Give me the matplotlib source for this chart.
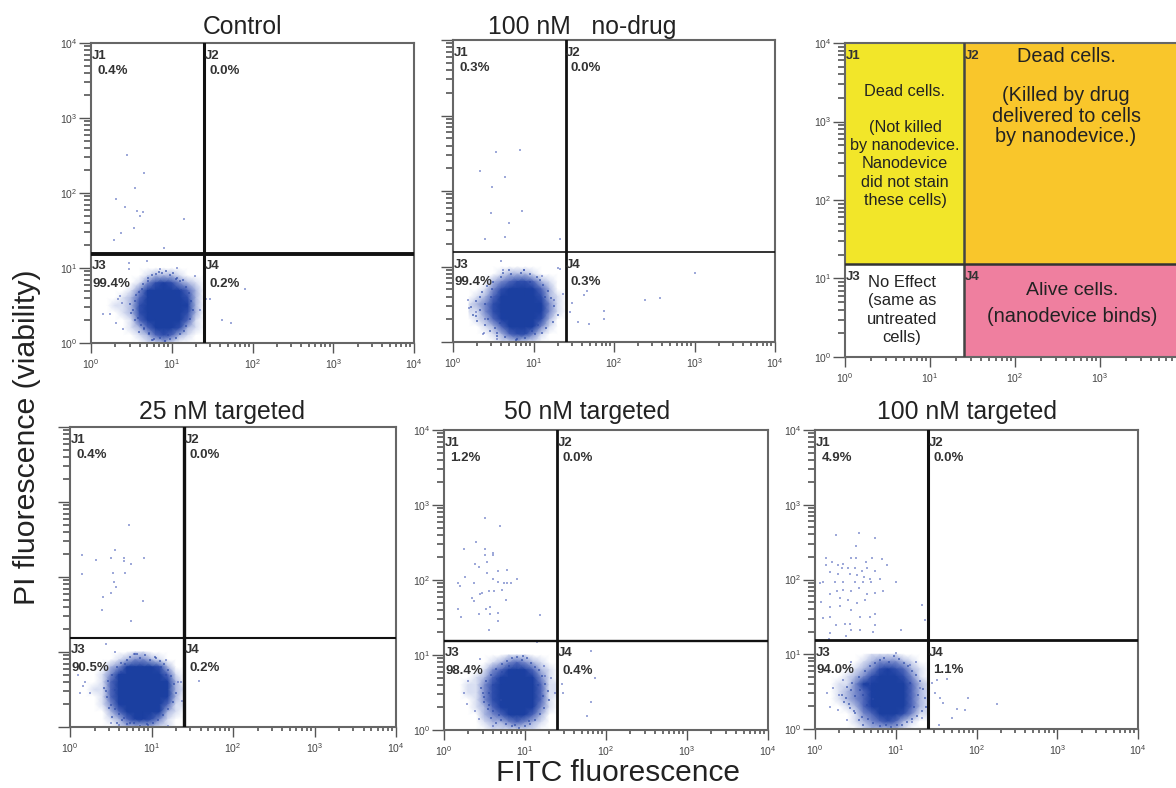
import numpy as np
import matplotlib
matplotlib.use('Agg')
import matplotlib.pyplot as plt
from matplotlib.colors import LinearSegmentedColormap
from matplotlib.ticker import LogLocator, NullFormatter

plt.rcParams['font.family'] = ['Liberation Sans', 'DejaVu Sans']
plt.rcParams['mathtext.default'] = 'regular'

# gates, fluorescence units
gate_x = 25
gate_y = 15.5

tick_vals = [1, 10, 100, 1000, 10000]
tick_labels = ['10$^{0}$', '10$^{1}$', '10$^{2}$', '10$^{3}$', '10$^{4}$']

# density of the main cloud, read per 0.1 decade (0 = white, 9 = solid blue)
grid_x = [.2, .3, .4, .5, .6, .7, .8, .9, 1.0, 1.1, 1.2, 1.3, 1.4]
grid_y = [1.0, .9, .8, .7, .6, .5, .4, .3, .2, .1, 0]

control_grid = [
    [0, 0, 0, 0, 0, 0, 0, 0, 0, 0, 0, 0, 0],
    [0, 0, 0, 0, 0, 1, 2, 2, 2, 1, 0, 0, 0],
    [0, 0, 0, 0, 1, 3, 5, 6, 5, 3, 2, 1, 0],
    [0, 0, 0, 1, 3, 6, 8, 9, 8, 6, 4, 2, 0],
    [0, 0, 1, 2, 4, 7, 9, 9, 9, 8, 5, 2, 0],
    [0, 1, 1, 2, 5, 8, 9, 9, 9, 8, 6, 2, 0],
    [0, 0, 1, 2, 5, 8, 9, 9, 9, 8, 5, 2, 0],
    [0, 0, 0, 1, 4, 6, 9, 9, 9, 7, 4, 1, 0],
    [0, 0, 0, 1, 2, 4, 7, 9, 8, 5, 2, 1, 0],
    [0, 0, 0, 0, 1, 2, 4, 5, 4, 2, 1, 0, 0],
    [0, 0, 0, 0, 0, 1, 1, 2, 1, 0, 0, 0, 0]]
nodrug_grid = [
    [0, 0, 0, 0, 0, 0, 0, 0, 0, 0, 0, 0, 0],
    [0, 0, 0, 0, 1, 2, 2, 2, 1, 0, 0, 0, 0],
    [0, 0, 0, 2, 3, 4, 5, 5, 4, 2, 1, 0, 0],
    [0, 0, 1, 3, 5, 7, 8, 8, 6, 4, 2, 0, 0],
    [0, 1, 2, 4, 7, 9, 9, 9, 8, 5, 2, 1, 0],
    [1, 2, 3, 5, 8, 9, 9, 9, 8, 6, 3, 1, 0],
    [1, 1, 3, 5, 8, 9, 9, 9, 8, 6, 3, 1, 0],
    [0, 1, 2, 4, 6, 9, 9, 9, 8, 5, 2, 0, 0],
    [0, 0, 1, 2, 4, 7, 8, 8, 6, 3, 1, 0, 0],
    [0, 0, 0, 1, 2, 4, 5, 5, 3, 1, 0, 0, 0],
    [0, 0, 0, 0, 1, 1, 2, 1, 1, 0, 0, 0, 0]]
t25_grid = [
    [0, 0, 0, 0, 0, 0, 1, 1, 0, 0, 0, 0, 0],
    [0, 0, 0, 0, 1, 2, 3, 3, 2, 1, 0, 0, 0],
    [0, 0, 0, 2, 3, 6, 8, 8, 7, 5, 2, 0, 0],
    [0, 0, 1, 3, 6, 8, 9, 9, 9, 7, 4, 1, 0],
    [0, 0, 1, 4, 7, 9, 9, 9, 9, 8, 6, 2, 0],
    [0, 1, 1, 4, 8, 9, 9, 9, 9, 9, 7, 2, 1],
    [0, 0, 1, 4, 7, 9, 9, 9, 9, 9, 6, 2, 0],
    [0, 0, 1, 3, 6, 9, 9, 9, 9, 8, 4, 1, 1],
    [0, 0, 0, 2, 4, 7, 9, 9, 9, 6, 2, 1, 0],
    [0, 0, 0, 1, 2, 4, 6, 6, 5, 3, 1, 0, 0],
    [0, 0, 0, 0, 1, 2, 2, 2, 2, 1, 1, 0, 0]]
t50_grid = [
    [0, 0, 0, 0, 0, 0, 1, 1, 1, 0, 0, 0, 0],
    [0, 0, 0, 0, 1, 2, 3, 4, 3, 2, 1, 0, 0],
    [0, 0, 0, 1, 3, 4, 6, 7, 6, 4, 2, 1, 0],
    [0, 0, 1, 2, 4, 6, 8, 9, 9, 6, 3, 1, 0],
    [0, 1, 1, 3, 5, 7, 9, 9, 9, 8, 4, 1, 1],
    [0, 1, 1, 3, 5, 7, 9, 9, 9, 8, 4, 1, 1],
    [0, 0, 1, 3, 5, 7, 9, 9, 9, 7, 4, 1, 0],
    [0, 0, 1, 2, 4, 6, 8, 9, 9, 6, 3, 1, 0],
    [0, 0, 0, 2, 3, 4, 6, 7, 6, 4, 2, 0, 0],
    [0, 0, 0, 1, 2, 2, 3, 4, 3, 2, 1, 0, 0],
    [0, 0, 0, 0, 1, 1, 1, 1, 1, 1, 0, 0, 0]]
t100_grid = [
    [0, 0, 0, 0, 0, 1, 1, 1, 1, 0, 0, 0, 0],
    [0, 0, 0, 0, 1, 2, 3, 3, 3, 2, 1, 0, 0],
    [0, 0, 0, 1, 2, 3, 5, 6, 5, 4, 2, 1, 0],
    [0, 0, 1, 2, 3, 5, 7, 8, 7, 5, 3, 1, 0],
    [0, 1, 1, 3, 6, 6, 8, 9, 9, 7, 4, 2, 1],
    [0, 1, 2, 3, 4, 6, 8, 9, 9, 8, 4, 2, 1],
    [0, 1, 2, 3, 4, 6, 9, 9, 9, 8, 4, 2, 1],
    [0, 0, 1, 2, 4, 6, 8, 9, 9, 7, 4, 2, 1],
    [0, 0, 0, 1, 3, 4, 7, 8, 7, 5, 3, 1, 1],
    [0, 0, 0, 1, 2, 3, 4, 5, 4, 2, 1, 0, 0],
    [0, 0, 0, 0, 1, 2, 2, 2, 2, 1, 0, 0, 0]]

# single events, read as log10 values
control_x = [.44, .66, .55, .31, .42, .64, .57, .61, 1.15, .53, .37, .28, .90,
             .15, .36, .34, .47, .47, .40, .31, 1.62, 1.73, 1.91, 1.43, 1.47, .69, .86, 1.06, 1.29, 1.35, .77, .92, .24, .39]
control_y = [2.50, 2.27, 2.06, 1.92, 1.81, 1.74, 1.76, 1.69, 1.65, 1.53, 1.46, 1.37, 1.27,
             .39, .62, .58, 1.06, .98, .18, .27, .31, .26, .72, .59, .59, 1.09, .98, 1.00, .89, .44, .04, .02, .38, .53]

nodrug_x = [.83, .53, .33, .64, .49, .47, .86, .69, .40, .64, 1.33,
            3.0, 2.57, 2.38, 1.88, 1.87, 1.63, 1.67, 1.48, 1.45, 1.55, 1.69,
            .60, .62, .19, .28, .38, .20, .37, 1.30, 1.33, 1.37, .55, .88, 1.10, 1.25, .40]
nodrug_y = [2.54, 2.51, 2.27, 2.18, 2.05, 1.71, 1.73, 1.57, 1.36, 1.39, 1.36,
            .92, .58, .55, .41, .30, .62, .68, .51, .40, .27, .24,
            1.07, .95, .55, .40, .12, .45, .10, .98, .97, .63, .04, .96, .88, .55, .30]

t25_x = [.73, .55, .15, .32, .50, .66, .66, .91, .75, .53, .68, .15, .54, .57, .50, .41, .90, .39, .75,
         1.58, .44, .10, .16, .18, .24, .50, .60, 1.20, 1.32, 1.36, 1.37, .55, 1.18, .78, .12]
t25_y = [2.70, 2.36, 2.29, 2.23, 2.25, 2.25, 2.21, 2.26, 2.17, 2.06, 2.06, 2.04, 1.94, 1.87, 1.79, 1.73, 1.68, 1.56, 1.41,
         .61, 1.11, .70, .55, .60, .45, .05, .03, .02, .60, .60, .35, 1.00, .90, .98, .45]

t50_x = [.51, .69, .39, .25, .51, .60, .60, .51, .53, .38, .43, .53, .67, .78, .26, .60, .90, .17, .20, .37, .67,
         .74, .78, .83, .44, .47, .56, .62, .72, .34, .37, .76, .17, .52, .57, .43, .57, .67, .21, .67, 1.19, .56,
         1.81, 1.87, 1.81, 1.77, 1.47, 1.46, .25, .28, .30, .43, .38, 1.15, 1.25, 1.32, 1.37, .60, .45, 1.24]
t50_y = [2.83, 2.72, 2.51, 2.42, 2.41, 2.36, 2.33, 2.33, 2.24, 2.21, 2.17, 2.09, 2.12, 2.13, 2.04, 2.02, 2.02, 1.96, 1.92, 1.96, 1.98,
         1.96, 1.96, 1.96, 1.81, 1.83, 1.85, 1.86, 1.87, 1.76, 1.72, 1.74, 1.62, 1.62, 1.64, 1.55, 1.55, 1.56, 1.51, 1.45, 1.53, 1.33,
         1.06, .69, .38, .19, .49, .62, .50, .35, .66, .15, .25, 1.17, .72, .70, .50, .05, .95, .85]

t100_x = [.26, .55, .74, .51, .14, .21, .28, .35, .45, .51, .63, .70, .83, .89, .14, .33, .41, .50, .58, .65, .74,
          .19, .29, .43, .52, .61, .68, .81, .10, .25, .35, .50, .60, .69, 1.00, .06, .18, .27, .35, .45, .55, .65,
          .74, .84, .08, .31, .41, .52, .62, .19, .31, .45, .74, .68, .10, .19, .37, .56, .26, .43, .74, .19, .45,
          .56, 1.07, .72, 1.32, 1.36, .39, .17,
          2.25, 1.90, 1.76, 1.86, 1.70, 1.54, 1.59, 1.51, 1.63, 1.45, 1.49, 1.55,
          .18, .22, .30, .35, .28, .40, .15, 1.33, 1.25, 1.18, .45, 1.30, 1.00, 1.20]
t100_y = [2.60, 2.62, 2.55, 2.45, 2.29, 2.24, 2.20, 2.21, 2.29, 2.29, 2.24, 2.29, 2.28, 2.19, 2.19, 2.15, 2.16, 2.16, 2.12, 2.15, 2.12,
          2.10, 2.08, 2.07, 2.06, 2.04, 2.01, 2.01, 1.96, 1.96, 1.97, 1.97, 1.97, 1.96, 1.96, 1.95, 1.80, 1.84, 1.86, 1.85, 1.88, 1.80,
          1.82, 1.84, 1.70, 1.75, 1.72, 1.68, 1.73, 1.63, 1.64, 1.59, 1.54, 1.50, 1.48, 1.50, 1.41, 1.50, 1.39, 1.41, 1.39, 1.29, 1.32,
          1.32, 1.32, 1.30, 1.66, 1.46, 1.24, 1.21,
          .34, .42, .27, .26, .15, .06, .35, .66, .67, .61, .48, .41,
          .30, .55, .45, .65, .25, .12, .48, .15, .90, .85, .90, .55, 1.02, .10]

# darker speckle round the rim of each cloud, log10 values
control_rim_x = [.52, .55, .58, .60, .62, .64, .66, .70, .72, .75, .80, .84, .88, .93, .98, 1.02, 1.06, 1.10, 1.14, 1.18, 1.21, 1.24, 1.26,
                 1.22, 1.18, 1.15, 1.10, 1.05, .98, .92, .85, .78, .72, .66, .60, .55, .50, .48, .56, .63, .70, 1.12, 1.19, .75, .95, 1.05]
control_rim_y = [.44, .56, .33, .68, .24, .79, .18, .86, .13, .90, .92, .95, .93, .96, .90, .93, .87, .82, .84, .74, .66, .56, .44,
                 .32, .22, .16, .12, .06, .05, .03, .06, .05, .12, .20, .15, .30, .40, .52, .64, .72, .82, .70, .42, .04, .10, .85]
nodrug_rim_x = [.22, .25, .28, .30, .33, .36, .40, .42, .46, .50, .55, .60, .65, .72, .78, .84, .90, .96, 1.02, 1.08, 1.12, 1.18, 1.22,
                1.26, 1.30, 1.24, 1.16, 1.10, 1.04, .96, .88, .80, .70, .62, .55, .47, .40, .34, .28, .44, .52, .58, .98, 1.06, 1.14, .48]
nodrug_rim_y = [.46, .36, .54, .28, .60, .66, .22, .74, .14, .80, .12, .86, .06, .90, .03, .92, .05, .90, .10, .82, .76, .68, .58,
                .48, .36, .26, .18, .12, .86, .80, .95, .04, .96, .92, .08, .60, .50, .42, .34, .30, .18, .25, .15, .22, .60, .70]
t25_rim_x = [.42, .45, .47, .50, .52, .55, .58, .60, .63, .66, .70, .74, .80, .86, .92, .98, 1.04, 1.10, 1.15, 1.20, 1.24, 1.27, 1.30,
             1.26, 1.20, 1.14, 1.08, 1.02, .94, .86, .78, .70, .64, .58, .52, .48, .44, .62, .68, .74, 1.12, 1.18, .55, .82, .96, 1.06]
t25_rim_y = [.52, .40, .62, .30, .70, .24, .80, .18, .86, .12, .90, .94, .98, .92, .96, .90, .94, .88, .84, .76, .68, .58, .46,
             .34, .24, .16, .10, .06, .04, .02, .06, .04, .10, .06, .14, .26, .48, .74, .84, .05, .80, .70, .50, .97, .03, .92]
t50_rim_x = [.46, .50, .52, .55, .58, .60, .64, .68, .72, .78, .84, .90, .96, 1.02, 1.08, 1.12, 1.17, 1.21, 1.25, 1.28, 1.30, 1.24, 1.18,
             1.12, 1.06, 1.00, .92, .84, .76, .70, .64, .58, .54, .50, .48, .66, .72, .80, .98, 1.16, 1.22, .60, .56, .70, .88, 1.05]
t50_rim_y = [.56, .44, .66, .34, .74, .26, .82, .20, .88, .92, .96, .98, .94, .96, .90, .84, .80, .72, .62, .52, .40, .30, .22,
             .14, .08, .05, .03, .05, .08, .14, .10, .16, .28, .38, .50, .68, .78, .86, .99, .60, .46, .60, .50, .40, .07, .12]
t100_rim_x = [.33, .36, .40, .43, .46, .50, .54, .58, .62, .68, .74, .80, .86, .92, .98, 1.04, 1.10, 1.15, 1.20, 1.25, 1.30, 1.34, 1.36,
              1.38, 1.32, 1.26, 1.20, 1.14, 1.08, 1.02, .94, .88, .80, .72, .66, .60, .54, .48, .42, .38, .50, .56, .64, .72, .68, 1.28,
              1.22, 1.18, 1.10, .44, .60]
t100_rim_y = [.46, .36, .56, .28, .62, .22, .70, .16, .78, .84, .88, .92, .95, .90, .98, .94, .88, .84, .78, .72, .64, .54, .42,
              .30, .24, .18, .14, .10, .06, .05, .03, .06, .04, .08, .14, .06, .12, .24, .34, .42, .44, .52, .32, .40, .60, .46,
              .30, .62, .66, .52, .46]

# quadrant percentages J1, J2, J3, J4
control_pct = ['0.4%', '0.0%', '99.4%', '0.2%']
nodrug_pct = ['0.3%', '0.0%', '99.4%', '0.3%']
t25_pct = ['0.4%', '0.0%', '90.5%', '0.2%']
t50_pct = ['1.2%', '0.0%', '98.4%', '0.4%']
t100_pct = ['4.9%', '0.0%', '94.0%', '1.1%']

W, H = 1176, 788
fig = plt.figure(figsize=(W / 100, H / 100), dpi=100, facecolor='white')
cloud_cmap = LinearSegmentedColormap.from_list('cloud', [(0, '#ffffff'), (.2, '#c9d2ec'), (.5, '#5f74c2'),
                                                         (.8, '#1c3fa3'), (1, '#1b3fa0')])
GREY = '#555555'


def make_axes(left, top, right, bottom, ylabels=True):
    ax = fig.add_axes([left / W, 1 - bottom / H, (right - left) / W, (bottom - top) / H])
    ax.set_xscale('log')
    ax.set_yscale('log')
    ax.set_xlim(1, 10000)
    ax.set_ylim(1, 10000)
    for s in ax.spines.values():
        s.set_color('#666666')
        s.set_linewidth(1.5)
    ax.set_xticks(tick_vals, tick_labels)
    ax.set_yticks(tick_vals, tick_labels if ylabels else [''] * 5)
    for axis in (ax.xaxis, ax.yaxis):
        axis.set_minor_locator(LogLocator(base=10, subs=np.arange(2, 10), numticks=12))
        axis.set_minor_formatter(NullFormatter())
    ax.tick_params(axis='y', which='major', length=9, width=1.0, color=GREY, labelsize=7.5, labelcolor='#444444', pad=1)
    ax.tick_params(axis='x', which='major', length=7, width=1.0, color=GREY, labelsize=7.5, labelcolor='#444444', pad=3)
    ax.tick_params(axis='y', which='minor', length=5, width=1.2, color=GREY)
    ax.tick_params(axis='x', which='minor', length=3, width=1.2, color=GREY)
    return ax


def quad_labels(ax, pct, size=9.5):
    xs = [1.03, 25.5, 1.03, 25.5]
    ys = [6800, 6800, 10.5, 10.5]
    names = ['J1', 'J2', 'J3', 'J4']
    for n, xx, yy in zip(names, xs, ys):
        ax.text(xx, yy, n, fontsize=size, fontweight='bold', color='#333333', ha='left', va='center', zorder=5)
    if pct is not None:
        ax.text(1.2, 4200, pct[0], fontsize=size, fontweight='bold', color='#333333', va='center')
        ax.text(29, 4200, pct[1], fontsize=size, fontweight='bold', color='#333333', va='center')
        ax.text(1.04, 6.2, pct[2], fontsize=size, fontweight='bold', color='#333333', va='center', zorder=5)
        ax.text(29, 6.2, pct[3], fontsize=size, fontweight='bold', color='#333333', va='center', zorder=5)


def flow_panel(box, title, title_x, title_y, grid, rim_x, rim_y, px, py, pct, lw_v=2.0, lw_h=2.0, ylabels=True):
    ax = make_axes(*box, ylabels=ylabels)
    X, Y = np.meshgrid(np.power(10.0, grid_x), np.power(10.0, grid_y))
    ax.pcolormesh(X, Y, np.array(grid), cmap=cloud_cmap, vmin=0, vmax=7, shading='gouraud', zorder=1)
    ax.scatter(np.power(10.0, rim_x), np.power(10.0, rim_y), s=3.5, marker='s', color='#2a49a8', alpha=0.6,
               linewidths=0, zorder=2)
    ax.scatter(np.power(10.0, px), np.power(10.0, py), s=3.5, marker='s', color='#3f55b5', alpha=0.5,
               linewidths=0, zorder=2)
    ax.axvline(gate_x, color='#111111', lw=lw_v, zorder=3)
    ax.axhline(gate_y, color='#111111', lw=lw_h, zorder=3)
    quad_labels(ax, pct)
    fig.text(title_x / W, 1 - (title_y + 1) / H, title, fontsize=17.8, color='#222222', ha='center', va='center')
    return ax


flow_panel((91, 43, 414, 343), 'Control', 243, 26, control_grid, control_rim_x, control_rim_y,
           control_x, control_y, control_pct, lw_v=2.2, lw_h=2.8)
flow_panel((453, 40, 775, 342), '100 nM   no-drug', 582, 26, nodrug_grid, nodrug_rim_x, nodrug_rim_y,
           nodrug_x, nodrug_y, nodrug_pct, lw_v=2.0, lw_h=1.2, ylabels=False)
flow_panel((70, 427, 396, 727), '25 nM targeted', 222, 411, t25_grid, t25_rim_x, t25_rim_y,
           t25_x, t25_y, t25_pct, lw_v=2.4, lw_h=1.5, ylabels=False)
flow_panel((444, 430, 768, 730), '50 nM targeted', 587, 411, t50_grid, t50_rim_x, t50_rim_y,
           t50_x, t50_y, t50_pct, lw_v=2.0, lw_h=1.7)
flow_panel((815, 430, 1138, 729), '100 nM targeted', 967, 411, t100_grid, t100_rim_x, t100_rim_y,
           t100_x, t100_y, t100_pct, lw_v=2.2, lw_h=2.0)

# legend panel, runs off the right edge of the picture
key = make_axes(845, 43, 1185, 357)
key.fill_between([1, gate_x], gate_y, 10000, color='#f2e629', lw=0, zorder=1)
key.fill_between([gate_x, 10000], gate_y, 10000, color='#f9c62b', lw=0, zorder=1)
key.fill_between([gate_x, 10000], 1, gate_y, color='#ef7f9f', lw=0, zorder=1)
key.axvline(gate_x, color='#444444', lw=1.8, zorder=3)
key.axhline(gate_y, color='#333333', lw=1.8, zorder=3)
quad_labels(key, None, size=9.5)
for txt, px_, py_, fs, ls in [('Dead cells.', 904, 91, 11.8, 1.15),
                              ('(Not killed\nby nanodevice.\nNanodevice\ndid not stain\nthese cells)', 905, 164, 11.7, 1.27),
                              ('Dead cells.', 1066, 56, 14.3, 1.05),
                              ('(Killed by drug\ndelivered to cells\nby nanodevice.)', 1066, 116, 14.3, 1.12),
                              ('No Effect\n(same as\nuntreated\ncells)', 902, 310, 11.9, 1.3),
                              ('Alive cells.', 1072, 290, 14, 1.05),
                              ('(nanodevice binds)', 1072, 317, 14.5, 1.05)]:
    fig.text(px_ / W, 1 - py_ / H, txt, fontsize=fs, color='#222222', ha='center', va='center', linespacing=ls,
             zorder=10)

fig.text(27 / W, 1 - 437 / H, 'PI fluorescence (viability)', fontsize=21.8, rotation=90, color='#222222',
         ha='center', va='center')
fig.text(618 / W, 1 - 773 / H, 'FITC fluorescence', fontsize=21.5, color='#222222', ha='center', va='center')

fig.savefig('out.png', dpi=100)
